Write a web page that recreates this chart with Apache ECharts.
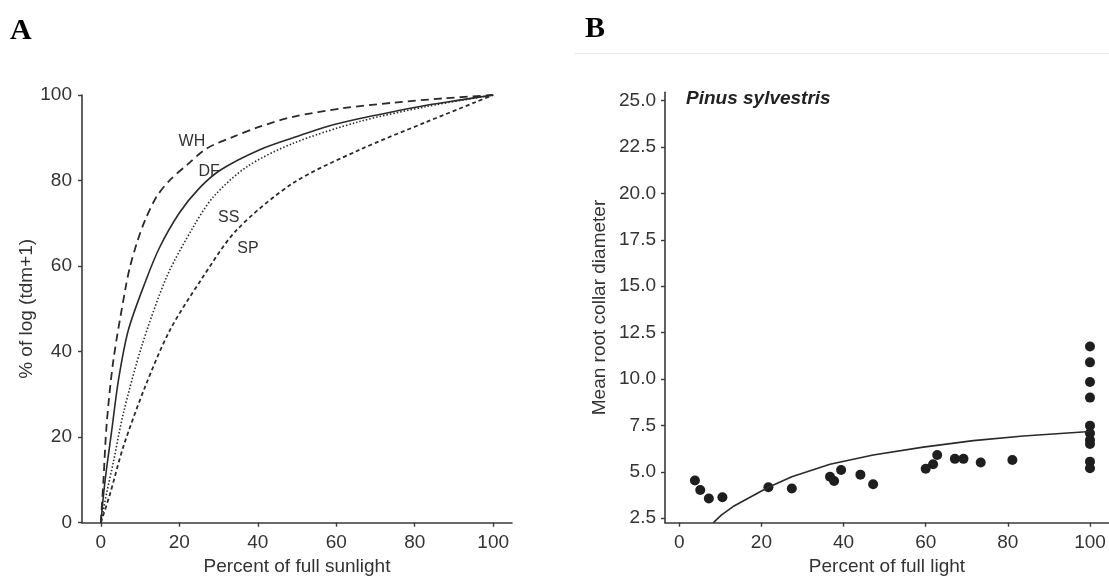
<!DOCTYPE html>
<html>
<head>
<meta charset="utf-8">
<style>
  html, body { margin: 0; padding: 0; background: #fff; }
  #chart { width: 1109px; height: 576px; }
</style>
<script src="https://cdn.jsdelivr.net/npm/echarts@6/dist/echarts.min.js"></script>
</head>
<body>
<div id="chart"></div>
<script>
// ---------- Panel A: response curves ----------
const whX = [0, 0.67, 1.5, 3.2, 6.36, 7.45, 9.15, 11.3, 14.2, 17.6, 21.9, 27, 33.7, 40.5, 49, 61.7, 74.5, 87.2, 100];
const whY = [0, 10, 23.2, 38, 55.2, 59.9, 65.3, 70.8, 76.2, 80.1, 83.6, 87.5, 90.2, 92.6, 94.9, 96.9, 98.2, 99.2, 100];
const dfX = [0, 1.1, 2.8, 4.5, 7, 11.5, 15, 20, 25, 30.4, 40.5, 50, 57.5, 66, 74.5, 83, 91.4, 100];
const dfY = [0, 10, 21.7, 33.4, 45, 56.7, 64.4, 72.4, 78.1, 82.4, 87.2, 90.3, 92.6, 94.5, 96.1, 97.6, 98.8, 100];
const ssX = [0, 1.5, 3.2, 5.75, 10.4, 16.8, 23.6, 28.7, 37.2, 49, 66, 83, 100];
const ssY = [0, 7, 14.2, 25.6, 41.2, 57.5, 69.2, 76.2, 83.2, 88.7, 93.8, 97.3, 100];
const spX = [0, 2.4, 5.75, 11.3, 17.6, 25.5, 34.6, 49, 66, 83, 95.7, 100];
const spY = [0, 6.9, 17.8, 31.8, 45, 56.7, 68.4, 79.4, 87.2, 93.7, 98.4, 100];
const curveLabels = ['WH', 'DF', 'SS', 'SP'];
const curveLabelX = [23.2, 27.6, 32.6, 37.5];
const curveLabelY = [89, 82.2, 71.3, 64.2];
const ticksA_X = [0, 20, 40, 60, 80, 100];
const ticksA_Y = [0, 20, 40, 60, 80, 100];

// ---------- Panel B: Pinus sylvestris ----------
const ptX = [3.8, 5.1, 7.2, 10.5, 21.7, 27.4, 36.7, 37.7, 39.4, 44.1, 47.2, 60.0, 61.8, 62.8, 67.1, 69.2, 73.4, 81.1,
             100, 100, 100, 100, 100, 100, 100, 100, 100, 100];
const ptY = [4.53, 4.02, 3.56, 3.63, 4.17, 4.1, 4.74, 4.51, 5.1, 4.85, 4.33, 5.17, 5.41, 5.91, 5.7, 5.7, 5.5, 5.64,
             11.75, 10.9, 9.84, 9.0, 7.49, 7.08, 6.72, 6.5, 5.55, 5.19];
const fitX = [8.3, 10.3, 13.1, 21.7, 27.4, 36.7, 47.2, 59.4, 71.6, 83.8, 100];
const fitY = [2.26, 2.68, 3.13, 4.17, 4.74, 5.41, 5.91, 6.33, 6.68, 6.93, 7.17];
const ticksB_X = [0, 20, 40, 60, 80, 100];
const ticksB_Y = [2.5, 5, 7.5, 10, 12.5, 15, 17.5, 20, 22.5, 25];

const zip = (xs, ys) => xs.map((x, i) => [x, ys[i]]);

const FONT = '"Liberation Sans", Arial, sans-serif';
const TXT = '#333';
const AX = '#3a3a3a';

function axisCommon(ticks, fmt, margin) {
  return {
    axisLine: { show: true, onZero: false, lineStyle: { color: AX, width: 1.6 } },
    axisTick: { show: true, inside: false, length: 4, lineStyle: { color: AX, width: 1.4 }, customValues: ticks },
    axisLabel: { show: true, color: TXT, fontFamily: FONT, fontSize: 19, margin: margin, customValues: ticks,
                 formatter: fmt },
    splitLine: { show: false },
    nameTextStyle: { color: TXT, fontFamily: FONT, fontSize: 19 }
  };
}

const chart = echarts.init(document.getElementById('chart'), null, { renderer: 'canvas' });

const lineBase = { type: 'line', xAxisIndex: 0, yAxisIndex: 0, showSymbol: false, symbol: 'none',
                   smooth: 0.3, silent: true, animation: false };

const labelMarks = curveLabels.map((t, i) => ({
  coord: [curveLabelX[i], curveLabelY[i]], value: t
}));

const option = {
  animation: false,
  backgroundColor: '#fff',
  grid: [
    { left: 82, top: 95, width: 430, height: 427.7, containLabel: false, outerBoundsMode: 'none' },
    { left: 665, top: 92.3, width: 444, height: 430.4, containLabel: false, outerBoundsMode: 'none' }
  ],
  xAxis: [
    Object.assign(axisCommon(ticksA_X, v => String(v), 11), {
      type: 'value', gridIndex: 0, min: -4.8, max: 104.8,
      name: 'Percent of full sunlight', nameLocation: 'middle', nameGap: 30
    }),
    Object.assign(axisCommon(ticksB_X, v => String(v), 11), {
      type: 'value', gridIndex: 1, min: -3.48, max: 104.63,
      name: 'Percent of full light', nameLocation: 'middle', nameGap: 35
    })
  ],
  yAxis: [
    Object.assign(axisCommon(ticksA_Y, v => String(v), 10), {
      type: 'value', gridIndex: 0, min: 0, max: 100,
      name: '% of log (tdm+1)', nameLocation: 'middle', nameGap: 31
    }),
    Object.assign(axisCommon(ticksB_Y, v => v.toFixed(1), 9), {
      type: 'value', gridIndex: 1, min: 2.26, max: 25.45,
      name: 'Mean root collar diameter', nameLocation: 'middle', nameGap: 56
    })
  ],
  graphic: [
    { type: 'text', left: 10, top: 16, style: { text: 'A', font: 'bold 30px "Liberation Serif", "Times New Roman", serif', fill: '#000' } },
    { type: 'text', left: 585, top: 14, style: { text: 'B', font: 'bold 30px "Liberation Serif", "Times New Roman", serif', fill: '#000' } },
    { type: 'line', shape: { x1: 575, y1: 53.5, x2: 1109, y2: 53.5 }, style: { stroke: '#e6e6e6', lineWidth: 1 } },
    { type: 'text', left: 686, top: 89, style: { text: 'Pinus sylvestris', font: 'italic bold 19px "Liberation Sans", Arial, sans-serif', fill: '#222' } }
  ],
  series: [
    Object.assign({}, lineBase, {
      name: 'WH', data: zip(whX, whY),
      lineStyle: { color: '#2a2a2a', width: 1.8, type: [8, 5] }
    }),
    Object.assign({}, lineBase, {
      name: 'DF', data: zip(dfX, dfY),
      lineStyle: { color: '#2a2a2a', width: 1.6, type: 'solid' }
    }),
    Object.assign({}, lineBase, {
      name: 'SS', data: zip(ssX, ssY),
      lineStyle: { color: '#2a2a2a', width: 1.6, type: [1.5, 2] }
    }),
    Object.assign({}, lineBase, {
      name: 'SP', data: zip(spX, spY),
      lineStyle: { color: '#2a2a2a', width: 1.8, type: [4, 3] }
    }),
    {
      type: 'scatter', xAxisIndex: 0, yAxisIndex: 0, data: [], silent: true,
      markPoint: {
        symbol: 'circle', symbolSize: 0, silent: true, animation: false,
        label: { show: true, position: 'inside', formatter: p => p.value, color: TXT, fontFamily: FONT, fontSize: 16 },
        data: labelMarks
      }
    },
    {
      type: 'line', xAxisIndex: 1, yAxisIndex: 1, data: zip(fitX, fitY), showSymbol: false, symbol: 'none',
      smooth: false, silent: true, clip: true,
      lineStyle: { color: '#2a2a2a', width: 1.6 }
    },
    {
      type: 'scatter', xAxisIndex: 1, yAxisIndex: 1, data: zip(ptX, ptY), symbol: 'circle', symbolSize: 10,
      itemStyle: { color: '#1e1e1e', opacity: 1 }, silent: true
    }
  ]
};

chart.setOption(option);
</script>
</body>
</html>
